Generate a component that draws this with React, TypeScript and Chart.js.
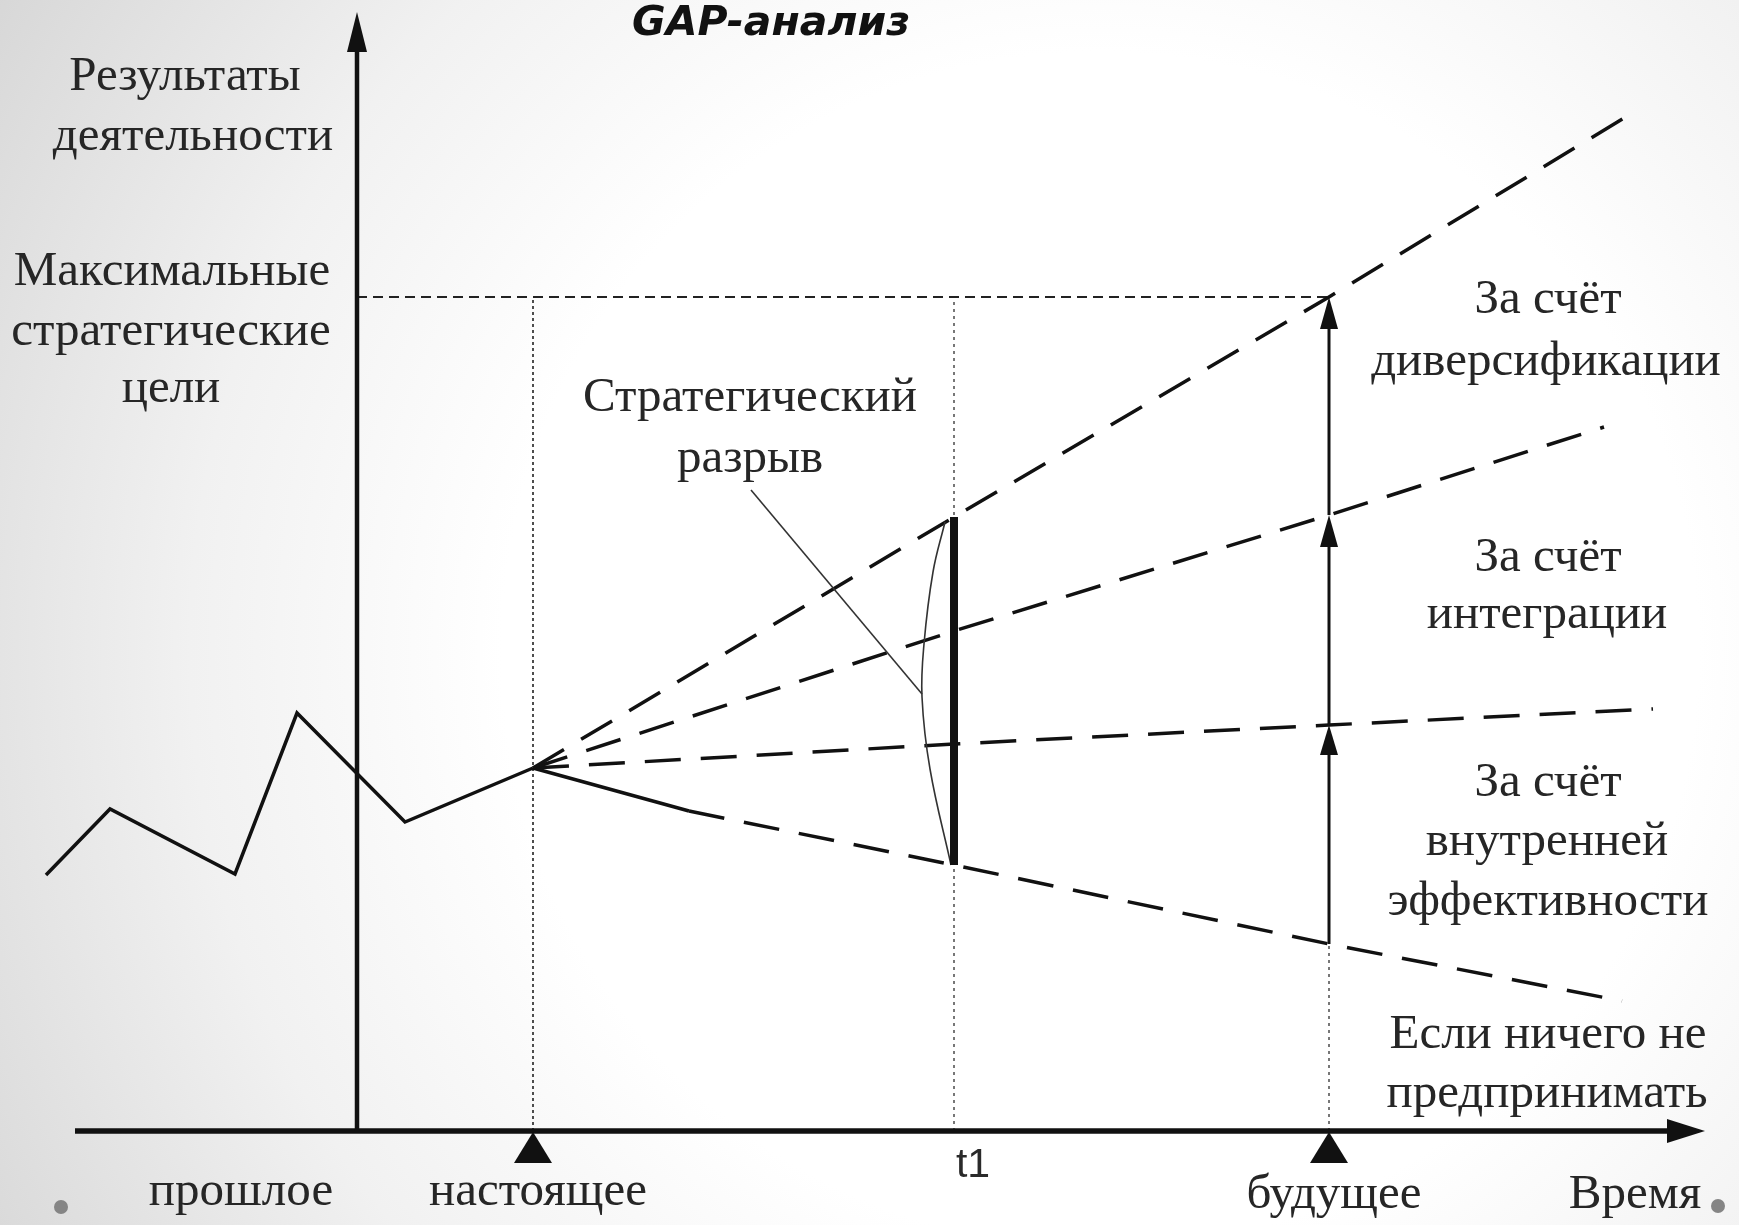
import { useEffect, useRef } from "react";
import { Chart, registerables } from "chart.js";
Chart.register(...registerables);

const W = 1739;
const H = 1225;

// Diagram coordinates: x = time axis units, y = results level units
const pastX = [46, 110, 235, 297, 405, 533];
const pastY = [350, 416, 351, 512, 403, 457];

const inertX = [533, 689, 954, 1329, 1622];
const inertY = [457, 414, 360, 281, 224];
const internalX = [533, 954, 1329, 1653];
const internalY = [457, 481, 500, 516];
const integrX = [533, 954, 1329, 1604];
const integrY = [457, 594, 710, 798];
const diversX = [533, 954, 1329, 1634];
const diversY = [457, 708, 928, 1113];

const bracketX = [945, 933, 924, 922, 930, 951];
const bracketY = [703, 653, 581, 528, 456, 360];
const leaderX = [751, 922];
const leaderY = [735, 531];

const maxGoal = 928;
const tPresent = 533;
const tT1 = 954;
const tFuture = 1329;
const yAxisX = 357;
const xAxisY = 94;
const xAxisStart = 75;
const xAxisEnd = 1705;
const yAxisTop = 1213;

const serifLabels: { t: string; x: number; y: number }[] = [
  { t: "Результаты", x: 185, y: 1135 },
  { t: "деятельности", x: 193, y: 1075 },
  { t: "Максимальные", x: 172, y: 940 },
  { t: "стратегические", x: 171, y: 880 },
  { t: "цели", x: 171, y: 823 },
  { t: "Стратегический", x: 750, y: 814 },
  { t: "разрыв", x: 750, y: 753 },
  { t: "За счёт", x: 1548, y: 912 },
  { t: "диверсификации", x: 1546, y: 850 },
  { t: "За счёт", x: 1548, y: 654 },
  { t: "интеграции", x: 1547, y: 597 },
  { t: "За счёт", x: 1548, y: 429 },
  { t: "внутренней", x: 1547, y: 370 },
  { t: "эффективности", x: 1548, y: 310 },
  { t: "Если ничего не", x: 1548, y: 177 },
  { t: "предпринимать", x: 1547, y: 118 },
  { t: "прошлое", x: 241, y: 20 },
  { t: "настоящее", x: 538, y: 20 },
  { t: "будущее", x: 1334, y: 17 },
  { t: "Время", x: 1635, y: 17 },
];
const titleText = "GAP-анализ";
const titlePos = { x: 771, y: 1190 };
const t1Label = { t: "t1", x: 973, y: 48 };
const bullets = [
  { x: 61, y: 18 },
  { x: 1718, y: 19 },
];

const pts = (xs: number[], ys: number[]) => xs.map((x, i) => ({ x, y: ys[i] }));

const LONG_DASH = [36, 20];

export default function App() {
  const ref = useRef<HTMLCanvasElement>(null);
  useEffect(() => {
    document.body.style.margin = "0";
    const canvas = ref.current!;
    const line = (data: any[], extra: any = {}) => ({
      data,
      showLine: true,
      pointRadius: 0,
      borderColor: "#111",
      borderWidth: 3.5,
      fill: false,
      tension: 0,
      ...extra,
    });

    const decor = {
      id: "decor",
      beforeDraw(chart: any) {
        const c = chart.ctx;
        const g = c.createRadialGradient(1100, 650, 0, 1100, 650, 1300);
        g.addColorStop(0, "#ffffff");
        g.addColorStop(0.46, "#ffffff");
        g.addColorStop(0.7, "#f1f1f1");
        g.addColorStop(1, "#d6d6d6");
        c.save();
        c.fillStyle = g;
        c.fillRect(0, 0, chart.width, chart.height);
        c.restore();
      },
      afterDatasetsDraw(chart: any) {
        const c = chart.ctx;
        const sx = chart.scales.x;
        const sy = chart.scales.y;
        const px = (v: number) => sx.getPixelForValue(v);
        const py = (v: number) => sy.getPixelForValue(v);
        c.save();
        c.fillStyle = "#111";
        const upHead = (x: number, y: number, len: number, w: number) => {
          const X = px(x), Y = py(y);
          c.beginPath();
          c.moveTo(X, Y);
          c.lineTo(X - w / 2, Y + len);
          c.lineTo(X + w / 2, Y + len);
          c.closePath();
          c.fill();
        };
        upHead(yAxisX, yAxisTop, 40, 20);
        upHead(tFuture, diversY[2], 32, 18);
        upHead(tFuture, integrY[2], 32, 18);
        upHead(tFuture, internalY[2], 30, 18);
        {
          const X = px(xAxisEnd), Y = py(xAxisY);
          c.beginPath();
          c.moveTo(X, Y);
          c.lineTo(X - 38, Y - 12);
          c.lineTo(X - 38, Y + 12);
          c.closePath();
          c.fill();
        }
        [tPresent, tFuture].forEach((t) => {
          const X = px(t), Y = py(xAxisY);
          c.beginPath();
          c.moveTo(X, Y + 1);
          c.lineTo(X - 19, Y + 32);
          c.lineTo(X + 19, Y + 32);
          c.closePath();
          c.fill();
        });
        c.fillStyle = "#858585";
        bullets.forEach((b) => {
          c.beginPath();
          c.arc(px(b.x), py(b.y), 7, 0, Math.PI * 2);
          c.fill();
        });
        c.textAlign = "center";
        c.textBaseline = "alphabetic";
        c.fillStyle = "#262626";
        c.font = "49px 'Liberation Serif'";
        serifLabels.forEach((l) => c.fillText(l.t, px(l.x), py(l.y)));
        c.font = "41px 'Liberation Sans'";
        c.fillStyle = "#2a2a2a";
        c.fillText(t1Label.t, px(t1Label.x), py(t1Label.y));
        c.fillStyle = "#111";
        c.font = "italic bold 41px 'DejaVu Sans'";
        c.fillText(titleText, px(titlePos.x), py(titlePos.y));
        c.restore();
      },
    };

    // listed bottom-to-top; reversed so the later ones are drawn on top
    const layers = [
      line(pts([tPresent, tPresent], [xAxisY, maxGoal]), { borderWidth: 1.6, borderDash: [3, 3], borderColor: "#222" }),
      line(pts([tT1, tT1], [xAxisY, maxGoal]), { borderWidth: 2, borderDash: [3, 4], borderColor: "#777" }),
      line(pts([tFuture, tFuture], [xAxisY, inertY[3]]), { borderWidth: 2, borderDash: [3, 4], borderColor: "#777" }),
      line(pts([yAxisX, tFuture], [maxGoal, maxGoal]), { borderWidth: 2, borderDash: [10, 6], borderColor: "#222" }),
      line(pts([xAxisStart, xAxisEnd - 30], [xAxisY, xAxisY]), { borderWidth: 5.5 }),
      line(pts([yAxisX, yAxisX], [xAxisY, yAxisTop - 30]), { borderWidth: 4.5 }),
      line(pts(pastX, pastY), { borderWidth: 3.5, borderJoinStyle: "miter" }),
      line(pts(inertX, inertY), {
        borderWidth: 3.5,
        segment: { borderDash: (ctx: any) => (ctx.p0DataIndex === 0 ? [] : LONG_DASH) },
      }),
      line(pts(internalX, internalY), { borderDash: LONG_DASH }),
      line(pts(integrX, integrY), { borderDash: LONG_DASH }),
      line(pts(diversX, diversY), { borderDash: LONG_DASH }),
      line(pts(bracketX, bracketY), { borderWidth: 1.6, tension: 0.4, borderColor: "#333" }),
      line(pts(leaderX, leaderY), { borderWidth: 1.6, borderColor: "#333" }),
      line(pts([tT1, tT1], [inertY[2], diversY[1]]), { borderWidth: 8, borderCapStyle: "butt" }),
      line(pts([tFuture, tFuture], [inertY[3], internalY[2] - 25]), { borderWidth: 3 }),
      line(pts([tFuture, tFuture], [internalY[2], integrY[2] - 25]), { borderWidth: 3 }),
      line(pts([tFuture, tFuture], [integrY[2], diversY[2] - 25]), { borderWidth: 3 }),
    ];

    const chart = new Chart(canvas, {
      type: "line",
      data: { datasets: layers.slice().reverse() as any },
      options: {
        animation: false,
        responsive: false,
        devicePixelRatio: 1,
        events: [],
        layout: { padding: 0 },
        plugins: { legend: { display: false }, tooltip: { enabled: false }, title: { display: false } },
        scales: {
          x: { type: "linear", min: 0, max: W, display: false },
          y: { type: "linear", min: 0, max: H, display: false },
        },
      },
      plugins: [decor],
    } as any);
    return () => chart.destroy();
  }, []);
  return <canvas ref={ref} width={W} height={H} style={{ display: "block", width: W, height: H }} />;
}
